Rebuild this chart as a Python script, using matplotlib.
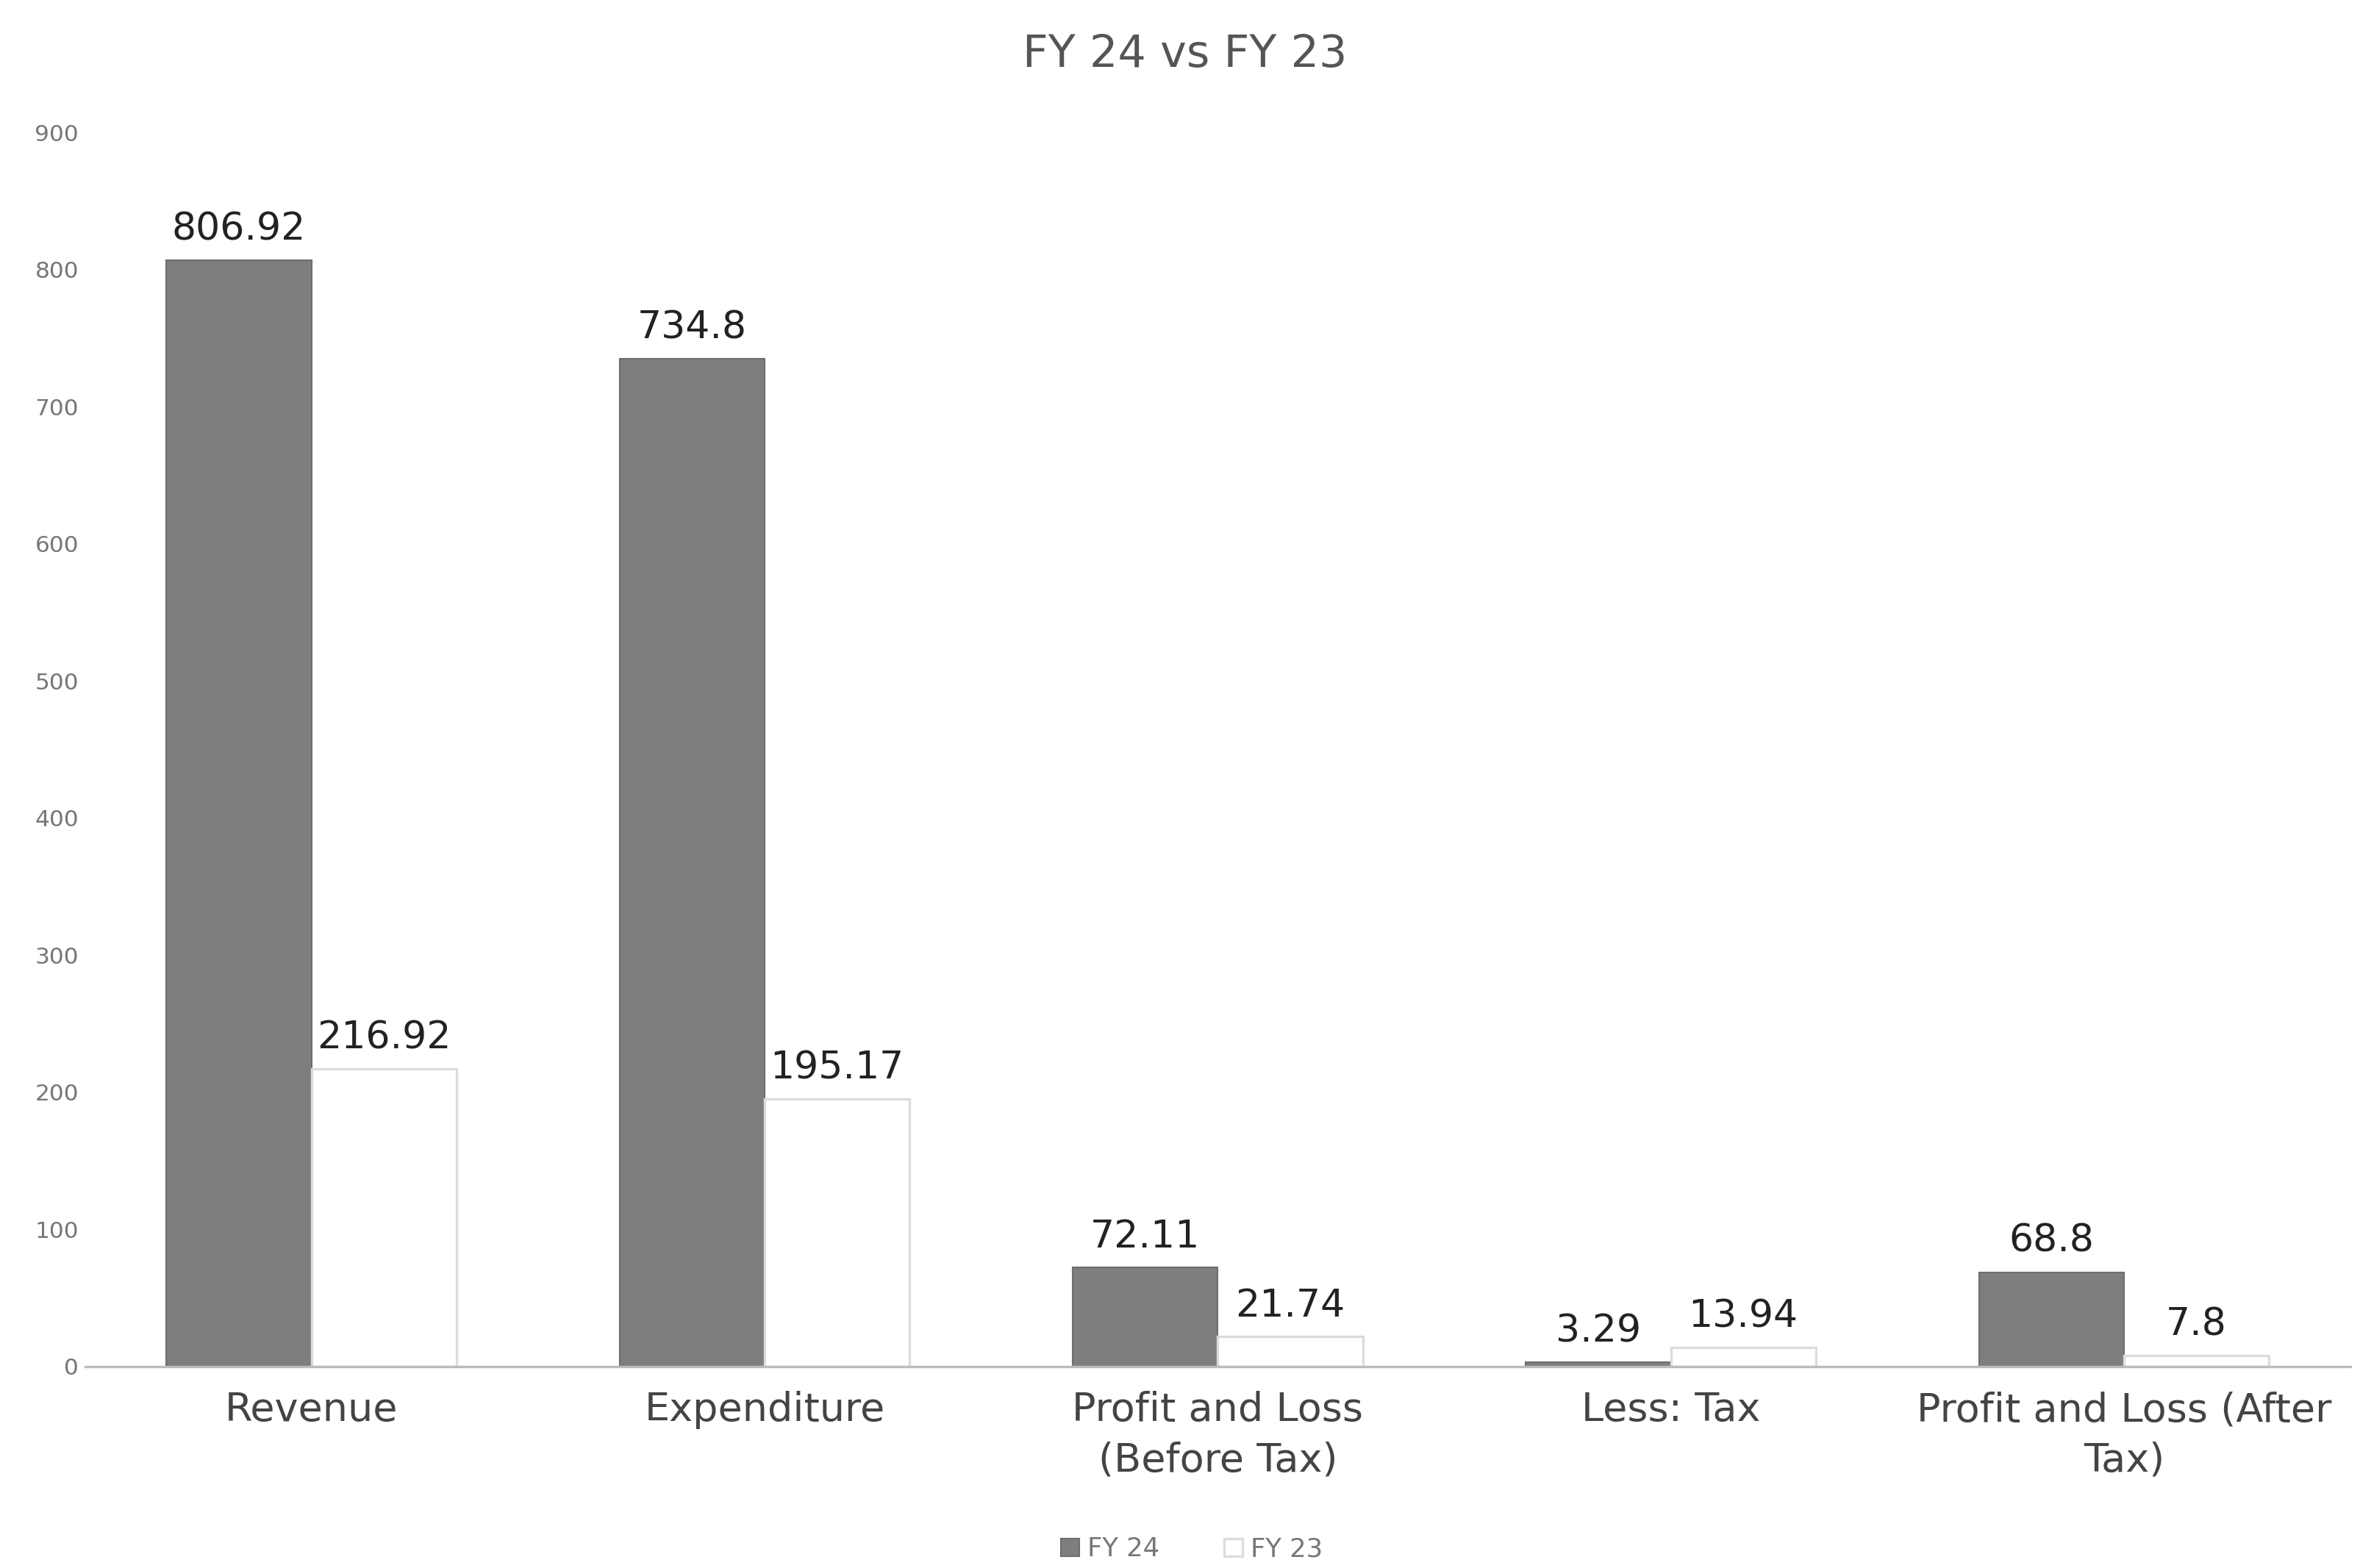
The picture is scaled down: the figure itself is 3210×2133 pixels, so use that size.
import matplotlib.pyplot as plt
import numpy as np

plt.rcParams["font.family"] = ["DejaVu Sans"]

categories = [
    "Revenue",
    "Expenditure",
    "Profit and Loss\n(Before Tax)",
    "Less: Tax",
    "Profit and Loss (After\nTax)",
]
fy24 = [806.92, 734.8, 72.11, 3.29, 68.8]
fy23 = [216.92, 195.17, 21.74, 13.94, 7.8]
y_ticks = [0, 100, 200, 300, 400, 500, 600, 700, 800, 900]

fig = plt.figure(figsize=(10.7, 7.11), dpi=300)
ax = fig.add_axes([0.036, 0.1285, 0.96, 0.787])

x = np.arange(len(categories))
w = 0.32
b24 = ax.bar(x - w / 2, fy24, w, color="#7e7e7e", edgecolor="#6e6e6e",
             linewidth=0.5, label="FY 24")
b23 = ax.bar(x + w / 2, fy23, w, color="white", edgecolor="#dcdcdc",
             linewidth=0.8, label="FY 23")

for bars, vals in ((b24, fy24), (b23, fy23)):
    for rect, v in zip(bars, vals):
        ax.annotate(f"{v:g}", (rect.get_x() + rect.get_width() / 2, v),
                    xytext=(0, 4), textcoords="offset points",
                    ha="center", va="bottom", fontsize=12.5, color="#222222")

ax.set_xlim(-0.5, len(categories) - 0.5)
ax.set_ylim(0, 900)
ax.set_yticks(y_ticks)
ax.set_yticklabels([str(t) for t in y_ticks], fontsize=7.5, color="#777777")
ax.set_xticks(x)
ax.set_xticklabels(categories, fontsize=13, color="#444444", linespacing=1.4)
ax.tick_params(axis="both", length=0)
ax.tick_params(axis="x", pad=8)
ax.tick_params(axis="y", pad=2)

for side in ("top", "right", "left"):
    ax.spines[side].set_visible(False)
ax.spines["bottom"].set_color("#bbbbbb")
ax.spines["bottom"].set_linewidth(0.8)

fig.text(0.502, 0.965, "FY 24 vs FY 23", ha="center", va="center",
         fontsize=14.5, color="#555555")

fig.legend(handles=[b24, b23], labels=["FY 24", "FY 23"], loc="center",
           bbox_to_anchor=(0.505, 0.012), ncol=2, frameon=False, fontsize=8.5,
           labelcolor="#777777", handlelength=0.7, handleheight=0.7,
           handletextpad=0.3, columnspacing=2.5)

fig.savefig("out.png", dpi=300, facecolor="white")
